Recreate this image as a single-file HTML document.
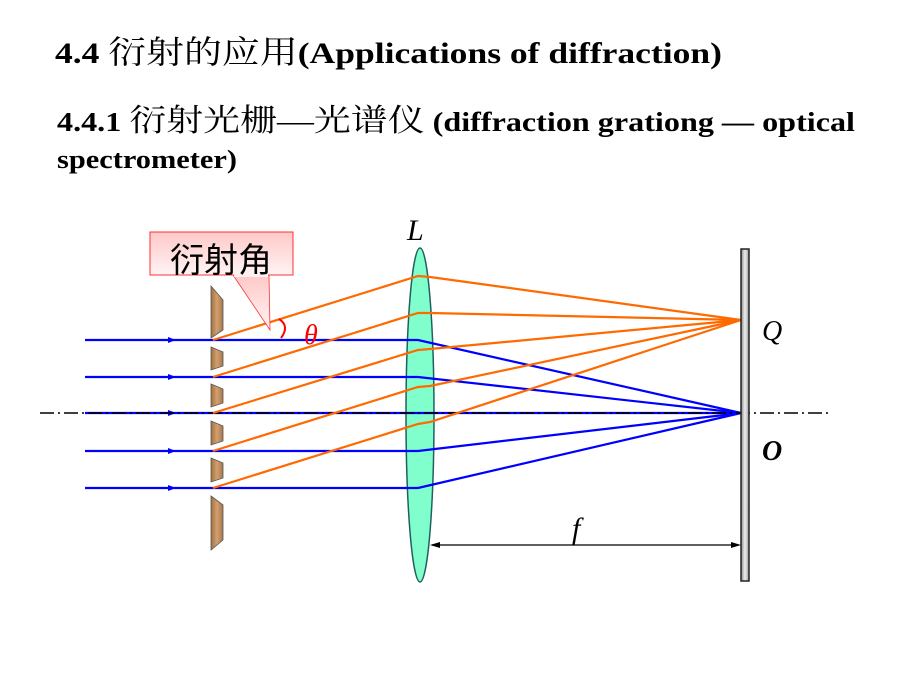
<!DOCTYPE html>
<html><head><meta charset="utf-8"><style>
body{margin:0;background:#fff;width:920px;height:690px;overflow:hidden}
svg{display:block}
.t{font-family:"Liberation Serif","Noto Serif CJK SC",serif;font-weight:bold;fill:#000}
.c{font-weight:normal}
</style></head><body>
<svg width="920" height="690" viewBox="0 0 920 690" xmlns="http://www.w3.org/2000/svg">
<defs>
<linearGradient id="pk" x1="0" y1="0" x2="0" y2="1"><stop offset="0" stop-color="#ffc8c8"/><stop offset="1" stop-color="#fff4f4"/></linearGradient>
<linearGradient id="wd" x1="0" y1="0" x2="1" y2="0"><stop offset="0" stop-color="#a0703c"/><stop offset="0.5" stop-color="#d2a070"/><stop offset="1" stop-color="#a8784a"/></linearGradient>
<linearGradient id="sc" x1="0" y1="0" x2="1" y2="0"><stop offset="0" stop-color="#888"/><stop offset="0.5" stop-color="#eee"/><stop offset="1" stop-color="#999"/></linearGradient>
</defs>
<text class="t" x="55" y="63" font-size="30" textLength="667" lengthAdjust="spacingAndGlyphs">4.4  <tspan class="c" font-size="32">衍射的应用</tspan>(Applications of diffraction)</text>
<text class="t" x="57" y="131" font-size="27" textLength="798" lengthAdjust="spacingAndGlyphs">4.4.1  <tspan class="c" font-size="31">衍射光栅—光谱仪</tspan>  (diffraction grationg — optical</text>
<text class="t" x="57" y="168" font-size="26" textLength="180" lengthAdjust="spacingAndGlyphs">spectrometer)</text>

<ellipse cx="420" cy="415" rx="14" ry="167" fill="#80ffcc" stroke="#206060" stroke-width="1.5"/>

<g stroke="#0000ff" stroke-width="2.2" fill="none">
<polyline points="85,340 418,340 741,413"/>
<polyline points="85,377 418,377 741,413"/>
<polyline points="85,413 418,413 741,413"/>
<polyline points="85,451 418,451 741,413"/>
<polyline points="85,488 418,488 741,413"/>
</g>
<g fill="#0000ff">
<polygon points="168,337 176,340 168,343"/><polygon points="168,374 176,377 168,380"/><polygon points="168,410 176,413 168,416"/><polygon points="168,448 176,451 168,454"/><polygon points="168,485 176,488 168,491"/>
</g>
<line x1="40" y1="413" x2="830" y2="413" stroke="#000" stroke-width="1.5" stroke-dasharray="14,4,2,4"/>
<g stroke="#ff6a00" stroke-width="2.2" fill="none">
<polyline points="213,340 418,276 430,277 741,320"/>
<polyline points="213,377 418,313 430,313 741,320"/>
<polyline points="213,413 418,350 430,349 741,320"/>
<polyline points="213,451 418,387 430,386 741,320"/>
<polyline points="213,488 418,424 430,422 741,320"/>
</g>

<g fill="url(#wd)" stroke="#555" stroke-width="0.8">
<polygon points="211,286 223,300 223,330 211,338"/>
<polygon points="211,347 223,352 223,366 211,370"/>
<polygon points="211,384 223,389 223,403 211,407"/>
<polygon points="211,421 223,426 223,441 211,445"/>
<polygon points="211,458 223,463 223,478 211,482"/>
<polygon points="211,496 223,505 223,540 211,550"/>
</g>

<rect x="741" y="249" width="8" height="332" fill="url(#sc)" stroke="#222" stroke-width="1.5"/>

<line x1="432" y1="545" x2="735" y2="545" stroke="#000" stroke-width="1.2"/>
<polygon points="430,545 440,542 440,548" fill="#000"/>
<polygon points="741,545 731,542 731,548" fill="#000"/>
<text x="572" y="538" font-family="Liberation Serif,serif" font-style="italic" font-size="30">f</text>

<text x="407" y="240" font-family="Liberation Serif,serif" font-style="italic" font-size="30">L</text>
<text x="762" y="340" font-family="Liberation Serif,serif" font-style="italic" font-size="28">Q</text>
<text x="762" y="460" font-family="Liberation Serif,serif" font-style="italic" font-weight="bold" font-size="28">O</text>

<path d="M279,319 Q290,326 281,338" stroke="#ff0000" stroke-width="2" fill="none"/>
<text x="304" y="344" font-family="Liberation Serif,serif" font-style="italic" font-size="28" fill="#ff0000">θ</text>

<polygon points="233,275 270,330 269,275" fill="url(#pk)" stroke="#ff3030" stroke-width="0.8"/>
<rect x="150" y="232" width="143" height="43" fill="url(#pk)" stroke="#ff3030" stroke-width="1"/>
<rect x="234" y="273" width="34" height="4" fill="#fff0f0"/>
<text x="221" y="272" text-anchor="middle" font-family="Noto Sans CJK SC,sans-serif" font-size="34" fill="#000">衍射角</text>
</svg>
</body></html>
